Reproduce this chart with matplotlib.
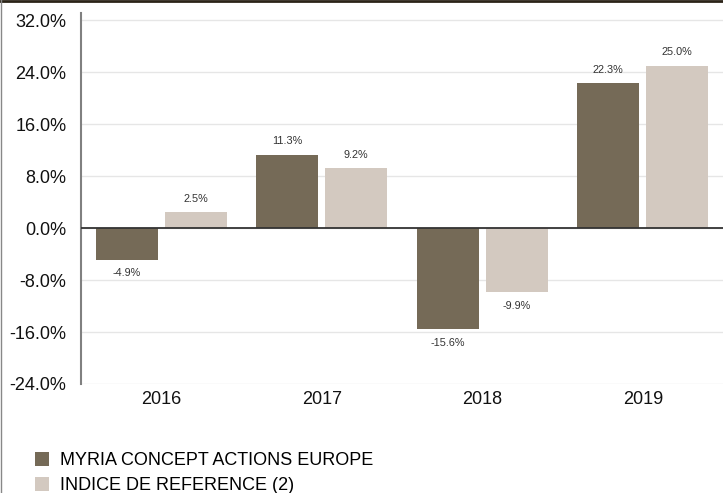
import matplotlib
matplotlib.use("Agg")
import matplotlib.pyplot as plt
import numpy as np

plt.rcParams['font.family'] = ['Liberation Sans', 'DejaVu Sans']

years = ["2016", "2017", "2018", "2019"]
fund = [-4.9, 11.3, -15.6, 22.3]
index = [2.5, 9.2, -9.9, 25.0]
series_names = ["MYRIA CONCEPT ACTIONS EUROPE", "INDICE DE REFERENCE (2)"]
yticks = [-24, -16, -8, 0, 8, 16, 24, 32]

c_fund = "#756a57"
c_index = "#d3c9c0"

W, H = 723, 493
fig = plt.figure(figsize=(W / 100, H / 100), dpi=100)
ax = fig.add_axes([81 / W, (H - 384) / H, 1 - 81 / W, (384 - 13) / H])

x = np.arange(len(years))
bw = 0.386
off = 0.215
b1 = ax.bar(x - off, fund, bw, color=c_fund, zorder=3, label=series_names[0])
b2 = ax.bar(x + off, index, bw, color=c_index, zorder=3, label=series_names[1])

for bars, vals in ((b1, fund), (b2, index)):
    for r, v in zip(bars, vals):
        cx = r.get_x() + r.get_width() / 2
        ax.annotate(f"{v:.1f}%", (cx, v), xytext=(0, 9.5 if v >= 0 else -9.5),
                    textcoords="offset points", ha="center", va="center",
                    fontsize=7.8, color="#333333", zorder=4)

ax.set_xlim(-0.5, len(years) - 0.5)
ax.set_ylim(-24, 33.08)
ax.set_yticks(yticks)
ax.set_yticklabels([f"{t:.1f}%" for t in yticks])
ax.set_xticks(x)
ax.set_xticklabels(years)
ax.tick_params(axis="both", length=0, labelsize=13, colors="#111111")
ax.tick_params(axis="y", pad=10.5)
ax.tick_params(axis="x", pad=5)
ax.grid(axis="y", color="#e6e6e6", linewidth=1, zorder=0)
ax.axhline(0, color="#333333", linewidth=1.3, zorder=5)

for s in ("top", "right", "bottom"):
    ax.spines[s].set_visible(False)
ax.spines["left"].set_color("#808080")
ax.spines["left"].set_linewidth(1.5)

fig.legend(handles=[b1, b2], loc="upper left", bbox_to_anchor=(35 / W, 1 - 452 / H),
           frameon=False, fontsize=13, handlelength=0.8, handleheight=0.8,
           handletextpad=0.6, labelspacing=0.45, borderaxespad=0, borderpad=0)

# frame lines at the top and left edge
fig.add_artist(plt.Line2D([0, 1], [1 - 1 / H, 1 - 1 / H], transform=fig.transFigure,
                          color="#2b2418", linewidth=2))
fig.add_artist(plt.Line2D([0.5 / W, 0.5 / W], [0, 1], transform=fig.transFigure,
                          color="#888888", linewidth=1))

fig.savefig("out.png", dpi=100)
